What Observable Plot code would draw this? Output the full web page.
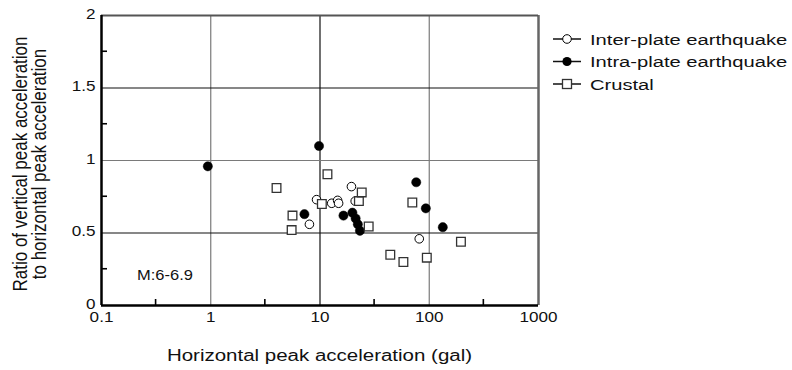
<!DOCTYPE html>
<html>
<head>
<meta charset="utf-8">
<script src="https://cdn.jsdelivr.net/npm/d3@7"></script>
<script src="https://cdn.jsdelivr.net/npm/@observablehq/plot@0.6"></script>
<style>
  html, body { margin: 0; padding: 0; background: #fff; }
  #chart { position: relative; width: 792px; height: 370px; }
  #chart svg { font-family: "Liberation Sans", Arial, sans-serif; overflow: visible; }
</style>
</head>
<body>
<div id="chart"></div>
<script>
// Horizontal peak acceleration (gal) and V/H ratio, magnitude 6–6.9
const interX = [9.3, 8.0, 12.8, 14.5, 14.8, 19.4, 21.0, 81];
const interY = [0.73, 0.56, 0.705, 0.725, 0.705, 0.82, 0.72, 0.46];

const intraX = [0.94, 9.8, 7.2, 16.4, 19.8, 21.2, 22.2, 23.2, 76, 93, 133];
const intraY = [0.96, 1.10, 0.63, 0.62, 0.64, 0.60, 0.56, 0.515, 0.85, 0.67, 0.54];

const crustX = [4.0, 5.6, 5.5, 10.4, 11.7, 22.7, 24.1, 27.9, 44, 58, 70, 95, 195];
const crustY = [0.81, 0.62, 0.52, 0.70, 0.905, 0.72, 0.78, 0.545, 0.35, 0.30, 0.71, 0.33, 0.44];

const xTicks = [0.1, 1, 10, 100, 1000];
const xMinor = [0.316, 3.16, 31.6, 316];
const yTicks = [0, 0.5, 1, 1.5, 2];
const yMinor = [0.25, 0.75, 1.25, 1.75];
const xGrid = [1, 10, 100];
const xGridColor = ["#7a7a7a", "#111", "#7a7a7a"];
const yGrid = [0.5, 1, 1.5];
const yGridColor = ["#111", "#7a7a7a", "#111"];
const xEdge = [1000];
const yEdge = [2];

const seriesNames = ["Inter-plate earthquake", "Intra-plate earthquake", "Crustal"];
const xTitle = "Horizontal peak acceleration (gal)";
const yTitle = ["Ratio of vertical peak acceleration", "to horizontal peak acceleration"];
const note = "M:6-6.9";

const toRows = (xs, ys) => xs.map((x, i) => ({x, y: ys[i]}));
const inter = toRows(interX, interY);
const intra = toRows(intraX, intraY);
const crust = toRows(crustX, crustY);

const W = 792, H = 370;
const mL = 101, mR = 254, mT = 15, mB = 65;

const chart = Plot.plot({
  width: W,
  height: H,
  marginLeft: mL,
  marginRight: mR,
  marginTop: mT,
  marginBottom: mB,
  style: {fontSize: "14px", color: "#111", background: "#fff", overflow: "visible"},
  x: {type: "log", domain: [0.1, 1000]},
  y: {domain: [0, 2]},
  marks: [
    Plot.ruleX(xGrid, {stroke: (d, i) => xGridColor[i], strokeWidth: 1.2}),
    Plot.ruleY(yGrid, {stroke: (d, i) => yGridColor[i], strokeWidth: 1.2}),
    // grey top and right edges of the box
    Plot.ruleX(xEdge, {stroke: () => "#666", strokeWidth: 2.5}),
    Plot.ruleY(yEdge, {stroke: () => "#555", strokeWidth: 2}),
    // heavy left and bottom axis lines
    Plot.ruleX([0.1], {stroke: () => "#000", strokeWidth: 2.5}),
    Plot.ruleY([0], {stroke: () => "#000", strokeWidth: 2.5}),
    Plot.axisX({ticks: xTicks, tickSize: 0, tickPadding: 7, tickFormat: d => String(d), label: null}),
    Plot.axisY({ticks: yTicks, tickSize: 0, tickPadding: 6, dy: -1, tickFormat: d => String(d), label: null}),
    Plot.dot(inter, {x: "x", y: "y", r: 4.3, fill: "#fff", stroke: "#000", strokeWidth: 1}),
    Plot.dot(intra, {x: "x", y: "y", r: 4.6, fill: "#000", stroke: "#000", strokeWidth: 0.5}),
    Plot.dot(crust, {x: "x", y: "y", r: 4.9, symbol: "square", fill: "#fff", stroke: "#333", strokeWidth: 1.3})
  ]
});

document.getElementById("chart").appendChild(chart);
const svg = d3.select(chart);
const sx = chart.scale("x"), sy = chart.scale("y");
const X = v => sx.apply(v), Y = v => sy.apply(v);

// inward minor ticks, placed through the plot's own scales
const deco = svg.insert("g", "g[aria-label='dot']").attr("fill", "none");
yMinor.forEach(v => deco.append("line")
  .attr("x1", X(0.1)).attr("x2", X(0.1) + 6).attr("y1", Y(v)).attr("y2", Y(v))
  .attr("stroke", "#000").attr("stroke-width", 1.6));
xMinor.forEach(v => deco.append("line")
  .attr("x1", X(v)).attr("x2", X(v)).attr("y1", Y(0)).attr("y2", Y(0) - 6)
  .attr("stroke", "#000").attr("stroke-width", 1.6));

// widen horizontal text to the chart's broad lettering
function widen(sel, k) {
  sel.each(function () {
    const w = this.getComputedTextLength();
    this.setAttribute("textLength", (w * k).toFixed(1));
    this.setAttribute("lengthAdjust", "spacingAndGlyphs");
  });
}
widen(svg.selectAll("g[aria-label='x-axis tick label'] text, g[aria-label='y-axis tick label'] text"), 1.22);

// x-axis title
const xt = svg.append("text")
  .attr("x", (X(0.1) + X(1000)) / 2).attr("y", 360.5)
  .attr("text-anchor", "middle")
  .attr("font-size", 16).attr("fill", "#111")
  .text(xTitle);
widen(xt, 1.28);

// y-axis title, two rotated lines
const yt = svg.append("g").attr("fill", "#111").attr("font-size", 17).attr("text-anchor", "middle");
yTitle.forEach((line, i) => {
  yt.append("text")
    .attr("transform", `translate(${27 + i * 19},${164}) rotate(-90) scale(1,1.2)`)
    .text(line);
});

// magnitude note
const nt = svg.append("text")
  .attr("x", 137).attr("y", 280)
  .attr("text-anchor", "start")
  .attr("font-size", 15).attr("fill", "#111")
  .text(note);
widen(nt, 1.1);

// legend
const lg = svg.append("g").attr("transform", "translate(553,0)").attr("text-anchor", "start");
const rowsY = [39, 61.5, 84];
rowsY.forEach((cy, i) => {
  const g = lg.append("g").attr("transform", `translate(0,${cy})`);
  g.append("line").attr("x1", 0).attr("x2", 28).attr("stroke", "#111").attr("stroke-width", 1.5);
  if (i === 0) g.append("circle").attr("cx", 14).attr("r", 4.3).attr("fill", "#fff").attr("stroke", "#000");
  if (i === 1) g.append("circle").attr("cx", 14).attr("r", 4.6).attr("fill", "#000");
  if (i === 2) g.append("rect").attr("x", 9.5).attr("y", -4.5).attr("width", 9).attr("height", 9)
    .attr("fill", "#fff").attr("stroke", "#333").attr("stroke-width", 1.3);
  const t = g.append("text").attr("x", 37).attr("y", 5.5)
    .attr("font-size", 15.5).attr("fill", "#111").text(seriesNames[i]);
  widen(t, 1.3);
});
</script>
</body>
</html>
